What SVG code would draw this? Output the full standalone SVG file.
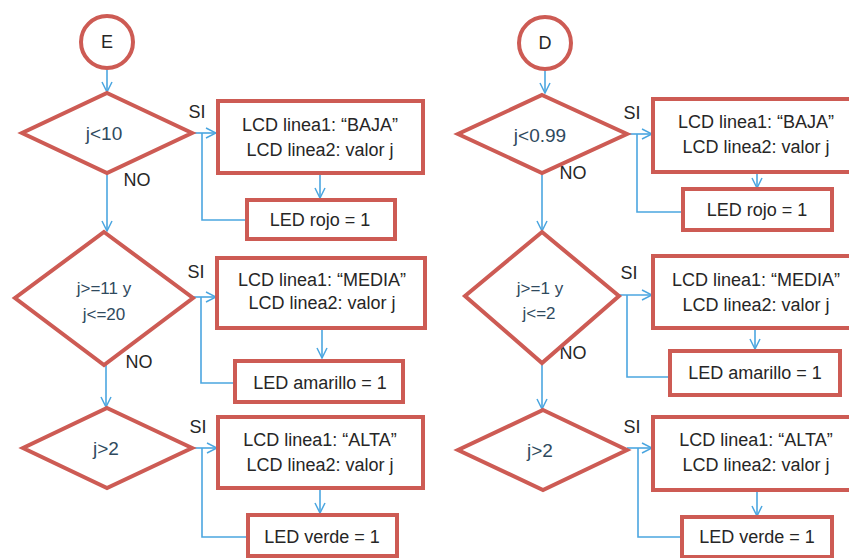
<svg xmlns="http://www.w3.org/2000/svg" width="849" height="558" viewBox="0 0 849 558">
<defs>
<marker id="arr" viewBox="0 0 12 12" refX="11" refY="6" markerWidth="12" markerHeight="12" markerUnits="userSpaceOnUse" orient="auto">
<path d="M1,1 L11,6 L1,11" fill="none" stroke="#4ba6e0" stroke-width="1.5"/>
</marker>
<style>
.n{fill:#fff;stroke:#cd5b54;stroke-width:4}
.c{fill:none;stroke:#4ba6e0;stroke-width:1.6}
.a{marker-end:url(#arr)}
text{font-family:"Liberation Sans",Arial,sans-serif;font-size:18px;fill:#262626;text-anchor:middle;dominant-baseline:central}
.d{fill:#2f4a5e;font-size:19px}
.s{font-size:17px}
</style>
</defs>
<rect width="849" height="558" fill="#fff"/>

<g id="connectors">
<line class="c a" x1="107" y1="70" x2="107" y2="92"/>
<line class="c a" x1="192" y1="133" x2="216" y2="133"/>
<line class="c a" x1="320" y1="174" x2="320" y2="198"/>
<polyline class="c" points="247,220 202,220 202,133"/>
<line class="c a" x1="107" y1="173" x2="107" y2="231"/>
<line class="c a" x1="193" y1="297" x2="216" y2="297"/>
<line class="c a" x1="322" y1="328" x2="322" y2="358"/>
<polyline class="c" points="235,383 201,383 201,297"/>
<line class="c a" x1="106" y1="365" x2="106" y2="407"/>
<line class="c a" x1="192" y1="448" x2="217" y2="448"/>
<line class="c a" x1="320" y1="488" x2="320" y2="513"/>
<polyline class="c" points="248,537 202,537 202,448"/>

<line class="c a" x1="545" y1="71" x2="545" y2="93"/>
<line class="c a" x1="627" y1="134" x2="652" y2="134"/>
<line class="c a" x1="757" y1="172" x2="757" y2="188"/>
<polyline class="c" points="683,212 637,212 637,134"/>
<line class="c a" x1="542" y1="173" x2="542" y2="231"/>
<line class="c a" x1="619" y1="295" x2="652" y2="295"/>
<line class="c a" x1="755" y1="328" x2="755" y2="349"/>
<polyline class="c" points="670,377 627,377 627,295"/>
<line class="c a" x1="542" y1="363" x2="542" y2="409"/>
<line class="c a" x1="627" y1="448" x2="652" y2="448"/>
<line class="c a" x1="757" y1="490" x2="757" y2="516"/>
<polyline class="c" points="682,537 638,537 638,448"/>
</g>

<g id="labels">
<text x="197" y="112">SI</text>
<text x="137" y="180">NO</text>
<text x="196" y="272">SI</text>
<text x="139" y="362">NO</text>
<text x="198" y="427">SI</text>
<text x="632" y="113">SI</text>
<text x="573" y="173">NO</text>
<text x="629" y="273">SI</text>
<text x="573" y="353">NO</text>
<text x="632" y="427">SI</text>
</g>

<g id="E">
<circle class="n" cx="107" cy="42" r="26"/>
<text x="107" y="42">E</text>
</g>
<g id="dec1L">
<polygon class="n" points="107,93 192,133 107,173 22,133"/>
<text class="d" x="104" y="133">j&lt;10</text>
</g>
<g id="bajaL">
<rect class="n" x="218" y="101" width="205" height="72"/>
<text x="320" y="125">LCD linea1: “BAJA”</text>
<text x="320" y="150">LCD linea2: valor j</text>
</g>
<g id="rojoL">
<rect class="n" x="247" y="200" width="148" height="39"/>
<text x="320" y="220">LED rojo = 1</text>
</g>
<g id="dec2L">
<polygon class="n" points="104,232 193,298 104,365 15,298"/>
<text class="d s" x="104" y="288">j&gt;=11 y</text>
<text class="d s" x="104" y="314">j&lt;=20</text>
</g>
<g id="mediaL">
<rect class="n" x="217" y="258" width="208" height="70"/>
<text x="322" y="280">LCD linea1: “MEDIA”</text>
<text x="322" y="303">LCD linea2: valor j</text>
</g>
<g id="amarilloL">
<rect class="n" x="235" y="361" width="168" height="41"/>
<text x="320" y="383">LED amarillo = 1</text>
</g>
<g id="dec3L">
<polygon class="n" points="107,408 192,448 107,488 23,448"/>
<text class="d" x="106" y="448">j&gt;2</text>
</g>
<g id="altaL">
<rect class="n" x="218" y="417" width="205" height="71"/>
<text x="320" y="440">LCD linea1: “ALTA”</text>
<text x="320" y="465">LCD linea2: valor j</text>
</g>
<g id="verdeL">
<rect class="n" x="248" y="515" width="149" height="41"/>
<text x="322" y="537">LED verde = 1</text>
</g>

<g id="D">
<circle class="n" cx="545" cy="43" r="26"/>
<text x="545" y="43">D</text>
</g>
<g id="dec1R">
<polygon class="n" points="542,95 627,134 542,173 458,134"/>
<text class="d" x="540" y="135">j&lt;0.99</text>
</g>
<g id="bajaR">
<rect class="n" x="653" y="99" width="210" height="73"/>
<text x="756" y="122">LCD linea1: “BAJA”</text>
<text x="756" y="147">LCD linea2: valor j</text>
</g>
<g id="rojoR">
<rect class="n" x="683" y="189" width="149" height="41"/>
<text x="757" y="210">LED rojo = 1</text>
</g>
<g id="dec2R">
<polygon class="n" points="542,232 619,296 542,363 465,296"/>
<text class="d s" x="540" y="288">j&gt;=1 y</text>
<text class="d s" x="539" y="313">j&lt;=2</text>
</g>
<g id="mediaR">
<rect class="n" x="653" y="256" width="210" height="72"/>
<text x="756" y="280">LCD linea1: “MEDIA”</text>
<text x="756" y="305">LCD linea2: valor j</text>
</g>
<g id="amarilloR">
<rect class="n" x="670" y="351" width="170" height="44"/>
<text x="755" y="373">LED amarillo = 1</text>
</g>
<g id="dec3R">
<polygon class="n" points="543,410 627,450 543,490 458,450"/>
<text class="d" x="540" y="450">j&gt;2</text>
</g>
<g id="altaR">
<rect class="n" x="653" y="417" width="210" height="73"/>
<text x="756" y="440">LCD linea1: “ALTA”</text>
<text x="756" y="465">LCD linea2: valor j</text>
</g>
<g id="verdeR">
<rect class="n" x="682" y="517" width="150" height="40"/>
<text x="757" y="537">LED verde = 1</text>
</g>
</svg>
